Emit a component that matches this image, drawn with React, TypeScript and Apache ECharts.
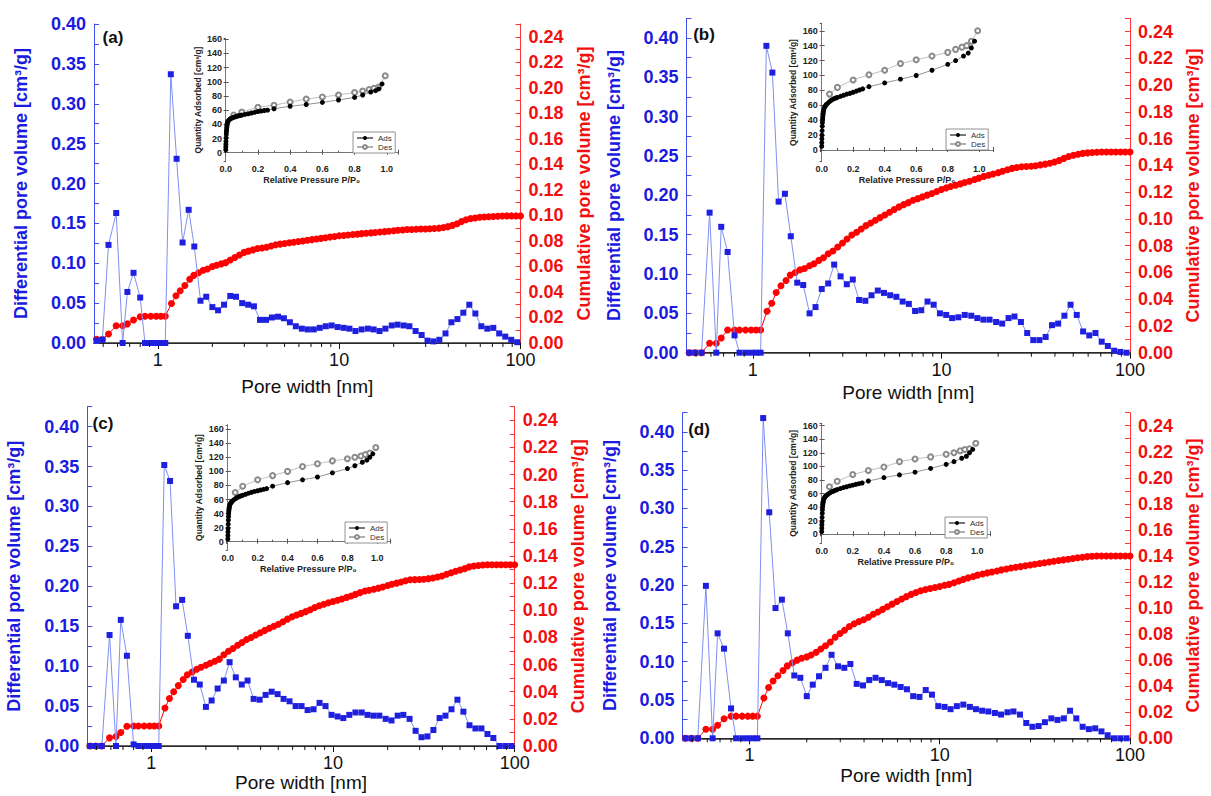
import React, { useEffect, useRef } from "react";
import * as echarts from "echarts";

const FONT = "'Liberation Sans', Arial, Helvetica, sans-serif";
const BLUE = "#1f1fe0";
const BLUE_LINE = "#8090f2";
const BLUE_AXIS = "#3f4ff0";
const BLUE_TXT = "#1a1ae0";
const RED = "#ff0000";
const RED_AXIS = "#ff3535";
const RED_TXT = "#f01010";

const X_MIN = 0.445;
const X_MAX = 100;
const X_LABELS = [1, 10, 100];
const X_MINOR_TICKS = [0.5, 0.6, 0.7, 0.8, 0.9, 2, 3, 4, 5, 6, 7, 8, 9, 20, 30, 40, 50, 60, 70, 80, 90];

// pore widths [nm]
const LOW_X = [0.46, 0.495, 0.535, 0.59, 0.64, 0.68, 0.735, 0.8, 0.85, 0.915, 0.98, 1.04, 1.1];
const BLUE_HIGH_X = [
  1.18, 1.27, 1.37, 1.48, 1.59, 1.72,
  1.85, 2.0, 2.15, 2.32, 2.51, 2.7, 2.92, 3.15, 3.39, 3.66,
  3.95, 4.26, 4.6, 4.96, 5.35, 5.77, 6.23, 6.72, 7.25, 7.82,
  8.44, 9.1, 9.82, 10.6, 11.4, 12.3, 13.3, 14.4, 15.5, 16.7,
  18.0, 19.5, 21.0, 22.7, 24.4, 26.4, 28.5, 30.7, 33.1, 35.7,
  38.6, 41.6, 44.9, 48.4, 52.2, 56.4, 60.8, 65.6, 70.8, 76.3,
  82.4, 88.9, 95.9,
];
const RED_HIGH_X = [
  1.19, 1.26, 1.33, 1.41, 1.5, 1.58, 1.68, 1.78, 1.88,
  2.0, 2.11, 2.24, 2.37, 2.51, 2.66, 2.82, 2.99, 3.16, 3.35,
  3.55, 3.76, 3.98, 4.22, 4.47, 4.73, 5.01, 5.31, 5.62, 5.96,
  6.31, 6.68, 7.08, 7.5, 7.94, 8.41, 8.91, 9.44, 10, 10.6,
  11.2, 11.9, 12.6, 13.3, 14.1, 15, 15.8, 16.8, 17.8, 18.8,
  20, 21.1, 22.4, 23.7, 25.1, 26.6, 28.2, 29.9, 31.6, 33.5,
  35.5, 37.6, 39.8, 42.2, 44.7, 47.3, 50.1, 53.1, 56.2, 59.6,
  63.1, 66.8, 70.8, 75, 79.4, 84.1, 89.1, 94.4, 100,
];
const BLUE_X = [...LOW_X, ...BLUE_HIGH_X];
const RED_X = [...LOW_X, ...RED_HIGH_X];

// Differential pore volume [cm3/g]
const BLUE_A = [
  0.003, 0.004, 0.123, 0.163, 0.0, 0.064, 0.088, 0.057, 0.0, 0.0, 0.0, 0.0, 0.0,
  0.337, 0.231, 0.126, 0.167, 0.121, 0.053,
  0.058, 0.045, 0.041, 0.048, 0.059, 0.058, 0.05, 0.048, 0.046, 0.029,
  0.029, 0.032, 0.033, 0.031, 0.026, 0.021, 0.018, 0.017, 0.017, 0.019,
  0.021, 0.022, 0.02, 0.019, 0.018, 0.015, 0.017, 0.018, 0.017, 0.015,
  0.018, 0.022, 0.023, 0.022, 0.021, 0.015, 0.01, 0.003, 0.002, 0.004,
  0.012, 0.026, 0.03, 0.038, 0.048, 0.037, 0.021, 0.018, 0.019, 0.012,
  0.008, 0.004, 0.001,
];
const BLUE_B = [
  0, 0, 0, 0.178, 0, 0.16, 0.128, 0.022, 0, 0, 0, 0, 0,
  0.39, 0.356, 0.192, 0.202, 0.148, 0.089,
  0.086, 0.05, 0.058, 0.081, 0.088, 0.112, 0.097, 0.087, 0.093, 0.067,
  0.066, 0.073, 0.079, 0.076, 0.073, 0.071, 0.065, 0.062, 0.053, 0.054,
  0.065, 0.061, 0.05, 0.048, 0.044, 0.045, 0.048, 0.047, 0.044, 0.042,
  0.042, 0.039, 0.037, 0.044, 0.046, 0.039, 0.025, 0.016, 0.016, 0.02,
  0.035, 0.037, 0.047, 0.061, 0.048, 0.027, 0.022, 0.025, 0.014, 0.0085,
  0.0025, 0.001, 0.0,
];
const BLUE_C = [
  0, 0, 0, 0.139, 0, 0.158, 0.113, 0.002, 0, 0, 0, 0, 0,
  0.352, 0.332, 0.175, 0.183, 0.138, 0.083,
  0.077, 0.049, 0.057, 0.072, 0.082, 0.105, 0.086, 0.077, 0.082, 0.059,
  0.058, 0.064, 0.068, 0.065, 0.059, 0.056, 0.05, 0.05, 0.045, 0.046,
  0.054, 0.05, 0.039, 0.037, 0.035, 0.039, 0.042, 0.042, 0.039, 0.038,
  0.038, 0.034, 0.032, 0.038, 0.039, 0.034, 0.019, 0.011, 0.012, 0.02,
  0.035, 0.038, 0.046, 0.058, 0.043, 0.026, 0.022, 0.022, 0.015, 0.01,
  0.0, 0.0, 0.0,
];
const BLUE_D = [
  0, 0, 0, 0.199, 0, 0.137, 0.117, 0.039, 0, 0, 0, 0, 0,
  0.418, 0.295, 0.17, 0.181, 0.137, 0.082,
  0.079, 0.055, 0.07, 0.081, 0.092, 0.109, 0.094, 0.092, 0.097, 0.071,
  0.069, 0.076, 0.079, 0.076, 0.072, 0.07, 0.067, 0.064, 0.055, 0.054,
  0.063, 0.057, 0.042, 0.041, 0.038, 0.042, 0.044, 0.041, 0.038, 0.036,
  0.035, 0.033, 0.031, 0.034, 0.035, 0.031, 0.02, 0.015, 0.016, 0.021,
  0.026, 0.024, 0.026, 0.036, 0.026, 0.015, 0.012, 0.013, 0.009, 0.004,
  0, 0, 0,
];

// Cumulative pore volume [cm3/g]
const RED_A = [
  0.003, 0.003, 0.007, 0.0135, 0.0135, 0.015, 0.018, 0.0205, 0.021, 0.021, 0.021, 0.021, 0.021,
  0.031, 0.037, 0.041, 0.045, 0.05, 0.053, 0.055, 0.057, 0.058,
  0.06, 0.061, 0.062, 0.063, 0.065, 0.067, 0.069, 0.071, 0.072, 0.073,
  0.074, 0.0745, 0.075, 0.076, 0.077, 0.0775, 0.078, 0.0785, 0.079, 0.0795,
  0.08, 0.0805, 0.081, 0.0815, 0.082, 0.0825, 0.083, 0.0835, 0.084, 0.0843,
  0.0847, 0.085, 0.0853, 0.0857, 0.086, 0.0863, 0.0866, 0.087, 0.0873, 0.0876,
  0.088, 0.0883, 0.0886, 0.0889, 0.089, 0.0892, 0.0893, 0.0894, 0.0895, 0.0897,
  0.09, 0.0905, 0.0912, 0.0922, 0.0935, 0.0952, 0.0966, 0.0975, 0.098, 0.0985,
  0.0988, 0.099, 0.0992, 0.0994, 0.0995, 0.0996, 0.0996, 0.0996, 0.0996,
];
const RED_B = [
  0, 0, 0, 0.007, 0.007, 0.011, 0.017, 0.017, 0.017, 0.017, 0.017, 0.017, 0.017,
  0.031, 0.037, 0.045, 0.05, 0.054, 0.058, 0.06, 0.062, 0.063,
  0.065, 0.0665, 0.069, 0.071, 0.074, 0.076, 0.079, 0.082, 0.085, 0.088,
  0.09, 0.0925, 0.095, 0.097, 0.099, 0.101, 0.103, 0.105, 0.107, 0.109,
  0.1107, 0.1122, 0.114, 0.1152, 0.1165, 0.1178, 0.119, 0.1205, 0.122, 0.1232,
  0.1243, 0.1252, 0.1262, 0.1272, 0.1282, 0.1295, 0.1305, 0.1318, 0.1327, 0.1336,
  0.1346, 0.1357, 0.1368, 0.1378, 0.1385, 0.139, 0.1392, 0.1394, 0.1398, 0.1404,
  0.141, 0.1417, 0.1425, 0.1438, 0.1453, 0.1467, 0.1476, 0.1484, 0.149, 0.1494,
  0.1497, 0.1499, 0.15, 0.15, 0.15, 0.15, 0.15, 0.15, 0.15,
];
const RED_C = [
  0, 0, 0, 0.006, 0.007, 0.01, 0.0145, 0.0148, 0.0148, 0.0148, 0.0148, 0.0148, 0.0148,
  0.028, 0.035, 0.04, 0.0445, 0.049, 0.0525, 0.0545, 0.0565, 0.058,
  0.0595, 0.061, 0.0625, 0.064, 0.0672, 0.0698, 0.0718, 0.0742, 0.0763, 0.0785,
  0.08, 0.0818, 0.0835, 0.0852, 0.0868, 0.0882, 0.0897, 0.0915, 0.0935, 0.0952,
  0.0965, 0.0977, 0.099, 0.1004, 0.102, 0.1033, 0.1045, 0.1055, 0.1065, 0.1074,
  0.1083, 0.1095, 0.1105, 0.1117, 0.113, 0.1142, 0.1148, 0.1155, 0.1163, 0.1172,
  0.1182, 0.1192, 0.12, 0.1209, 0.1218, 0.1225, 0.1226, 0.1227, 0.1229, 0.1233,
  0.1238, 0.1245, 0.1253, 0.1266, 0.1277, 0.1287, 0.1297, 0.1307, 0.132, 0.1326,
  0.133, 0.1333, 0.1336, 0.1336, 0.1336, 0.1336, 0.1336, 0.1336, 0.1336,
];
const RED_D = [
  0, 0, 0, 0.007, 0.007, 0.01, 0.015, 0.017, 0.017, 0.017, 0.017, 0.017, 0.017,
  0.031, 0.039, 0.044, 0.048, 0.052, 0.0556, 0.058, 0.06, 0.0615,
  0.0625, 0.064, 0.066, 0.0685, 0.071, 0.074, 0.0776, 0.0805, 0.083, 0.0858,
  0.088, 0.0897, 0.091, 0.093, 0.0953, 0.097, 0.099, 0.101, 0.103, 0.105,
  0.107, 0.1088, 0.1105, 0.112, 0.1133, 0.1143, 0.115, 0.1158, 0.1165, 0.1175,
  0.1182, 0.1195, 0.1208, 0.122, 0.1232, 0.1243, 0.1253, 0.1262, 0.127, 0.1277,
  0.1285, 0.1293, 0.13, 0.1307, 0.1313, 0.1318, 0.1325, 0.133, 0.1336, 0.1342,
  0.1348, 0.1354, 0.136, 0.1365, 0.137, 0.1375, 0.138, 0.1386, 0.139, 0.1395,
  0.1398, 0.14, 0.14, 0.14, 0.14, 0.14, 0.14, 0.14, 0.14,
];

// Isotherms: relative pressure P/P0 and quantity adsorbed [cm3/g]
const ADS_P = [
  0.0005, 0.001, 0.0015, 0.002, 0.003, 0.004, 0.005, 0.006, 0.007, 0.008,
  0.009, 0.01, 0.012, 0.015, 0.02, 0.025, 0.03, 0.04, 0.05, 0.06,
  0.07, 0.08, 0.09, 0.1, 0.12, 0.14, 0.16, 0.18, 0.2, 0.22,
  0.24, 0.26, 0.3, 0.4, 0.5, 0.6, 0.7, 0.8, 0.85, 0.9,
  0.93, 0.95, 0.97,
];
const DES_P = [0.05, 0.1, 0.2, 0.3, 0.4, 0.5, 0.6, 0.7, 0.8, 0.85, 0.89, 0.92, 0.95, 0.99];
const ADS_A = [
  4, 8, 12, 16, 21, 26, 30, 33, 36, 38,
  40, 41.5, 43, 44.5, 46, 47, 48, 49, 50, 50.7,
  51.3, 52, 52.5, 53, 54, 55, 56, 57, 58, 58.7,
  59.5, 60, 62, 65.5, 68, 71, 74.4, 78, 81.4, 85.6,
  87.5, 90, 97,
];
const DES_A = [53, 57.5, 64, 67, 71.5, 75.8, 78.5, 81.5, 85, 87, 89, 91, 92.7, 108.5];
const ADS_B = [
  5, 10, 15, 20, 26, 32, 37, 41, 44, 47,
  49, 51, 53, 55.5, 58, 59.5, 61, 63, 65, 66.5,
  68, 69, 69.8, 70.5, 72, 73.5, 75, 76, 77.5, 79,
  80.5, 82, 85, 90, 95, 100, 107, 115, 120, 126,
  130, 137, 146,
];
const DES_B = [75, 84, 94, 101, 107, 116, 121, 126, 131, 135, 138, 140, 146, 160];
const ADS_C = [
  4, 9, 14, 19, 25, 31, 36, 40, 43, 45.5,
  47.5, 49, 51, 53, 55, 56.5, 57.5, 59.5, 61, 62.5,
  63.5, 64.5, 65.3, 66, 67.5, 69, 70.3, 71.5, 72.5, 73.5,
  74.5, 75.5, 79, 84, 88, 92, 98, 104, 108, 113,
  116, 120, 125,
];
const DES_C = [70, 79, 88, 94, 100, 107, 111, 115, 118, 120, 122, 124, 126, 134];
const ADS_D = [
  4, 9, 14, 19, 25, 31, 36, 40, 43, 45.5,
  47, 48.5, 50.5, 52.5, 54.5, 56, 57, 59, 60.5, 62,
  63, 64, 65, 65.8, 67.3, 68.8, 70, 71.2, 72.3, 73.5,
  74.5, 75.5, 78.5, 83.5, 87.5, 91.5, 97, 103, 107, 112,
  115, 120, 125,
];
const DES_D = [70, 78, 88, 94, 99, 107, 111, 114, 118, 120, 123, 125, 126, 134];

const PANELS = [
  {
    tag: "(a)", tagPos: [113, 37], blue: BLUE_A, red: RED_A, ads: ADS_A, des: DES_A,
    main: { left: 94, top: 24, width: 426.5, height: 319 }, yMax: 0.4, xNameGap: 34,
    inset: { left: 225, top: 38.3, width: 173.3, height: 123.4, xMin: -0.004, xMax: 1.071, yMin: -12.7, yMax: 161.4 },
    legend: { left: 353, top: 132 },
  },
  {
    tag: "(b)", tagPos: [704, 34], blue: BLUE_B, red: RED_B, ads: ADS_B, des: DES_B,
    main: { left: 686.5, top: 18.3, width: 443.5, height: 334.4 }, yMax: 0.425, xNameGap: 30,
    inset: { left: 820.7, top: 23.3, width: 172.6, height: 138.4, xMin: -0.006, xMax: 1.089, yMin: -15.7, yMax: 170 },
    legend: { left: 946, top: 129 },
  },
  {
    tag: "(c)", tagPos: [103, 423], blue: BLUE_C, red: RED_C, ads: ADS_C, des: DES_C,
    main: { left: 87.3, top: 406.7, width: 427.4, height: 339.3 }, yMax: 0.425, xNameGap: 22,
    inset: { left: 226.7, top: 425, width: 163.3, height: 125, xMin: -0.007, xMax: 1.085, yMin: -11.8, yMax: 166 },
    legend: { left: 345, top: 522 },
  },
  {
    tag: "(d)", tagPos: [699, 429], blue: BLUE_D, red: RED_D, ads: ADS_D, des: DES_D,
    main: { left: 682.6, top: 412.7, width: 447.4, height: 325.6 }, yMax: 0.425, xNameGap: 28,
    inset: { left: 820.7, top: 423.3, width: 170, height: 120, xMin: -0.006, xMax: 1.086, yMin: -13.3, yMax: 163.5 },
    legend: { left: 945, top: 517 },
  },
];

const zip = (xs: number[], ys: number[]) => xs.map((x, i) => [x, ys[i]]);

function buildOption() {
  const grid: any[] = [];
  const xAxis: any[] = [];
  const yAxis: any[] = [];
  const series: any[] = [];
  const legend: any[] = [];
  const graphic: any[] = [];

  PANELS.forEach((p, i) => {
    const g = 2 * i;
    const gi = 2 * i + 1;
    const ax = 4 * i;
    grid.push({ left: p.main.left, top: p.main.top, width: p.main.width, height: p.main.height, outerBoundsMode: "none" });
    grid.push({ left: p.inset.left, top: p.inset.top, width: p.inset.width, height: p.inset.height, outerBoundsMode: "none" });

    xAxis.push({
      type: "log", logBase: 10, gridIndex: g, position: "bottom", min: X_MIN, max: X_MAX,
      axisLine: { show: true, lineStyle: { color: "#111", width: 1 } },
      axisTick: { show: true, length: 6, lineStyle: { color: "#111" } },
      axisLabel: {
        color: "#111", fontSize: 18, fontFamily: FONT, margin: 8, showMinLabel: false,
        formatter: (v: number) => {
          const r = Math.round(v);
          return X_LABELS.includes(r) && Math.abs(v - r) < 1e-6 ? String(r) : "";
        },
      },
      splitLine: { show: false },
      name: "Pore width [nm]", nameLocation: "middle", nameGap: p.xNameGap,
      nameTextStyle: { fontSize: 19, color: "#111", fontFamily: FONT },
    });
    xAxis.push({
      type: "log", logBase: 10, gridIndex: g, position: "top", min: X_MIN, max: X_MAX,
      axisLine: { show: true, lineStyle: { color: "#333", width: 1.5 } },
      axisTick: { show: false }, axisLabel: { show: false }, splitLine: { show: false },
    });
    xAxis.push({
      type: "value", gridIndex: gi, position: "bottom", min: p.inset.xMin, max: p.inset.xMax, splitNumber: 5,
      axisLine: { show: true, lineStyle: { color: "#777", width: 1 } },
      axisTick: { show: true, inside: true, length: 3, lineStyle: { color: "#555" } },
      minorTick: { show: true, splitNumber: 2, length: 2, lineStyle: { color: "#555" } },
      axisLabel: {
        fontSize: 9, fontWeight: "bold", color: "#222", fontFamily: FONT, margin: 3,
        showMinLabel: false, showMaxLabel: false, formatter: (v: number) => Math.abs(v).toFixed(1),
      },
      splitLine: { show: false },
      name: "Relative Pressure P/P₀", nameLocation: "middle", nameGap: 14,
      nameTextStyle: { fontSize: 9, fontWeight: "bold", color: "#222", fontFamily: FONT },
    });
    xAxis.push({
      type: "value", gridIndex: gi, position: "top", min: p.inset.xMin, max: p.inset.xMax, splitNumber: 5,
      axisLine: { show: true, lineStyle: { color: "#777", width: 1 } },
      axisTick: { show: true, inside: true, length: 2, lineStyle: { color: "#555" } },
      axisLabel: { show: false }, splitLine: { show: false },
    });

    yAxis.push({
      type: "value", gridIndex: g, position: "left", min: 0, max: p.yMax, interval: 0.05,
      axisLine: { show: true, lineStyle: { color: BLUE_AXIS, width: 1 } },
      axisTick: { show: true, inside: true, length: 5, lineStyle: { color: BLUE_AXIS } },
      minorTick: { show: true, splitNumber: 2, length: 5, lineStyle: { color: BLUE_AXIS } },
      axisLabel: {
        color: BLUE_TXT, fontSize: 18, fontWeight: "bold", fontFamily: FONT, margin: 8,
        showMaxLabel: p.yMax <= 0.4, formatter: (v: number) => v.toFixed(2),
      },
      splitLine: { show: false },
      name: "Differential pore volume [cm³/g]", nameLocation: "middle", nameRotate: 90, nameGap: 64,
      nameTextStyle: { fontSize: 18, fontWeight: "bold", color: BLUE_TXT, fontFamily: FONT },
    });
    yAxis.push({
      type: "value", gridIndex: g, position: "right", min: 0, max: 0.25, interval: 0.02,
      axisLine: { show: true, lineStyle: { color: RED_AXIS, width: 1 } },
      axisTick: { show: true, inside: true, length: 5, lineStyle: { color: RED_AXIS } },
      minorTick: { show: true, splitNumber: 2, length: 5, lineStyle: { color: RED_AXIS } },
      axisLabel: {
        color: RED_TXT, fontSize: 18, fontWeight: "bold", fontFamily: FONT, margin: 8,
        showMaxLabel: false, formatter: (v: number) => v.toFixed(2),
      },
      splitLine: { show: false },
      name: "Cumulative pore volume [cm³/g]", nameLocation: "middle", nameRotate: 90, nameGap: 54,
      nameTextStyle: { fontSize: 18, fontWeight: "bold", color: RED_TXT, fontFamily: FONT },
    });
    yAxis.push({
      type: "value", gridIndex: gi, position: "left", min: p.inset.yMin, max: p.inset.yMax, splitNumber: 8,
      axisLine: { show: true, lineStyle: { color: "#777", width: 1 } },
      axisTick: { show: true, inside: true, length: 3, lineStyle: { color: "#555" } },
      axisLabel: {
        fontSize: 9, fontWeight: "bold", color: "#222", fontFamily: FONT, margin: 3,
        showMinLabel: false, showMaxLabel: false, formatter: (v: number) => String(Math.round(v)),
      },
      splitLine: { show: false },
      name: "Quantity Adsorbed [cm³/g]", nameLocation: "middle", nameRotate: 90, nameGap: 23,
      nameTextStyle: { fontSize: 8.5, fontWeight: "bold", color: "#222", fontFamily: FONT },
    });
    yAxis.push({
      type: "value", gridIndex: gi, position: "right", min: p.inset.yMin, max: p.inset.yMax, splitNumber: 8,
      axisLine: { show: true, lineStyle: { color: "#777", width: 1 } },
      axisTick: { show: true, inside: true, length: 2, lineStyle: { color: "#555" } },
      axisLabel: { show: false }, splitLine: { show: false },
    });

    series.push({
      type: "line", xAxisIndex: ax, yAxisIndex: ax + 1, data: zip(RED_X, p.red),
      symbol: "circle", symbolSize: 7, itemStyle: { color: RED },
      lineStyle: { color: RED, width: 1 }, clip: false, silent: true, z: 2,
    });
    series.push({
      type: "line", xAxisIndex: ax, yAxisIndex: ax, data: zip(BLUE_X, p.blue),
      symbol: "rect", symbolSize: 6, itemStyle: { color: BLUE },
      lineStyle: { color: BLUE_LINE, width: 1 }, clip: false, silent: true, z: 3,
    });
    series.push({
      type: "custom", xAxisIndex: ax, yAxisIndex: ax, silent: true, clip: false, z: 4,
      data: X_MINOR_TICKS.map((v) => [v, 0]),
      renderItem: (_params: any, api: any) => {
        const pt = api.coord([api.value(0), 0]);
        return {
          type: "line",
          shape: { x1: pt[0], y1: pt[1], x2: pt[0], y2: pt[1] + 4 },
          style: { stroke: "#111", lineWidth: 1 },
        };
      },
    });
    series.push({
      type: "line", name: "Ads", xAxisIndex: ax + 2, yAxisIndex: ax + 2, data: zip(ADS_P, p.ads),
      symbol: "circle", symbolSize: 5, itemStyle: { color: "#000" },
      lineStyle: { color: "#777", width: 0.8 }, clip: false, silent: true, z: 6,
    });
    series.push({
      type: "line", name: "Des", xAxisIndex: ax + 2, yAxisIndex: ax + 2, data: zip(DES_P, p.des),
      symbol: "emptyCircle", symbolSize: 5, itemStyle: { color: "#8a8a8a", borderWidth: 0.8 },
      lineStyle: { color: "#b0b0b0", width: 0.8 }, clip: false, silent: true, z: 5,
    });

    legend.push({
      orient: "vertical", left: p.legend.left, top: p.legend.top, data: ["Ads", "Des"],
      itemWidth: 16, itemHeight: 5, itemGap: 1, padding: [2, 3, 2, 3],
      borderColor: "#777", borderWidth: 0.8, backgroundColor: "#fff", selectedMode: false,
      textStyle: { fontSize: 8, color: "#333", fontFamily: FONT },
    });

    graphic.push({
      type: "text", x: p.tagPos[0], y: p.tagPos[1],
      style: {
        text: p.tag, fontSize: 17, fontWeight: "bold", fontFamily: FONT, fill: "#111",
        align: "center", verticalAlign: "middle",
      },
    });
  });

  return {
    animation: false,
    backgroundColor: "#fff",
    grid, xAxis, yAxis, series, legend, graphic,
  };
}

export default function App() {
  const ref = useRef<HTMLDivElement>(null);
  useEffect(() => {
    if (!ref.current) return;
    const chart = echarts.init(ref.current, undefined, { renderer: "svg" });
    chart.setOption(buildOption() as any);
    return () => chart.dispose();
  }, []);
  return (
    <div
      ref={ref}
      style={{ position: "absolute", left: 0, top: 0, width: 1211, height: 796, background: "#fff" }}
    />
  );
}
